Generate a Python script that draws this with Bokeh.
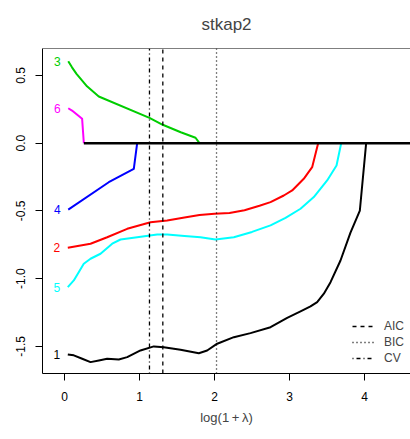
from bokeh.plotting import figure
from bokeh.models import Range1d, FixedTicker, Legend, LegendItem, Span, PrintfTickFormatter
from bokeh.embed import file_html
from bokeh.resources import INLINE
from bokeh.core.properties import value

# ---- data ----
x1 = [0.044, 0.124, 0.236, 0.347, 0.458, 0.569, 0.724, 0.836, 1.013, 1.191, 1.324, 1.547, 1.791,
      1.902, 2.036, 2.258, 2.48, 2.747, 2.969, 3.147, 3.28, 3.369, 3.458, 3.547, 3.68, 3.813,
      3.938, 4.022]
y1 = [-1.559, -1.566, -1.591, -1.616, -1.604, -1.591, -1.596, -1.579, -1.53, -1.5, -1.506, -1.525, -1.55,
      -1.53, -1.48, -1.432, -1.402, -1.358, -1.289, -1.242, -1.205, -1.173, -1.111, -1.026, -0.866, -0.66,
      -0.497, 0.0]

x2 = [0.044, 0.347, 0.569, 0.836, 1.147, 1.369, 1.6, 1.8, 2.0, 2.2, 2.4, 2.6, 2.747, 2.924, 3.036,
      3.19, 3.302, 3.382]
y2 = [-0.772, -0.742, -0.694, -0.632, -0.583, -0.57, -0.548, -0.53, -0.521, -0.516, -0.495, -0.462,
      -0.435, -0.386, -0.349, -0.263, -0.177, 0.0]

x3 = [0.05, 0.1, 0.16, 0.3, 0.457, 1.133, 1.31, 1.55, 1.747, 1.8]
y3 = [0.605, 0.56, 0.512, 0.42, 0.345, 0.187, 0.136, 0.081, 0.04, 0.0]

x4 = [0.05, 0.59, 0.924, 0.969]
y4 = [-0.49, -0.288, -0.189, 0.0]

x5 = [0.044, 0.124, 0.257, 0.347, 0.48, 0.636, 0.747, 0.969, 1.236, 1.369, 1.6, 1.813, 2.013, 2.258,
      2.5, 2.747, 2.947, 3.147, 3.324, 3.502, 3.627, 3.689]
y5 = [-1.063, -1.013, -0.89, -0.853, -0.816, -0.742, -0.711, -0.694, -0.674, -0.674, -0.685, -0.694,
      -0.711, -0.694, -0.655, -0.607, -0.551, -0.484, -0.398, -0.275, -0.165, 0.0]

x6 = [0.05, 0.10, 0.235, 0.258]
y6 = [0.258, 0.241, 0.18, 0.0]

zero_x = [0.258, 4.7]
zero_y = [0.0, 0.0]

series_labels = ["1", "2", "3", "4", "5", "6"]
series_colors = ["black", "#FF0000", "#00CD00", "#0000FF", "#00FFFF", "#FF00FF"]

aic = 1.311
bic = 2.027
cv = 1.133

x_ticks = [0, 1, 2, 3, 4]
y_ticks = [-1.5, -1.0, -0.5, 0.0, 0.5]

X_RANGE = (-0.2933, 4.6133)
Y_RANGE = (-1.70, 0.699)

FONT = "Liberation Sans"
W, H = 410, 439
B_LEFT, B_TOP, B_BOTTOM = 42, 48, 66

p = figure(width=W, height=H, output_backend="svg", toolbar_location=None,
           x_range=Range1d(*X_RANGE), y_range=Range1d(*Y_RANGE),
           min_border_left=B_LEFT, min_border_right=0, min_border_top=B_TOP,
           min_border_bottom=B_BOTTOM)
p.background_fill_color = None
p.border_fill_color = "white"
p.grid.visible = False
p.outline_line_color = None

p.title.text = "stkap2"
p.title.align = "center"
p.title.vertical_align = "top"
p.title.text_font = FONT
p.title.text_font_style = "normal"
p.title.text_font_size = "17px"
p.title.standoff = 25

for ax in (p.xaxis[0], p.yaxis[0]):
    ax.axis_line_color = "black"
    ax.major_tick_out = 7
    ax.major_tick_in = 0
    ax.minor_tick_line_color = None
    ax.major_label_text_font = FONT
    ax.major_label_text_font_size = "12px"
    ax.major_label_text_color = "black"
    ax.axis_label_text_font = FONT
    ax.axis_label_text_font_style = "normal"
    ax.axis_label_text_font_size = "13px"

p.xaxis.ticker = FixedTicker(ticks=x_ticks)
p.yaxis.ticker = FixedTicker(ticks=y_ticks)
p.yaxis.formatter = PrintfTickFormatter(format="%.1f")
p.yaxis.major_label_orientation = "vertical"
p.yaxis.major_label_standoff = 10
p.xaxis.major_label_standoff = 11
p.xaxis.axis_label = "log(1\u2009+\u2009\u03bb)"
p.xaxis.axis_label_standoff = 6

top_line = Span(location=Y_RANGE[1], dimension="width", line_color="black", line_width=1)
p.add_layout(top_line)

xs = [x1, x2, x3, x4, x5, x6]
ys = [y1, y2, y3, y4, y5, y6]
for xx, yy, c in zip(xs, ys, series_colors):
    p.line(xx, yy, line_color=c, line_width=2, line_join="round")

p.line(zero_x, zero_y, line_color="black", line_width=2.5)

p.text(x=[xx[0] for xx in xs], y=[yy[0] for yy in ys], text=series_labels,
       text_color=series_colors, x_offset=-11, text_align="center", text_baseline="middle",
       text_font=value(FONT), text_font_size="12px")

r_aic = p.segment(x0=[aic], y0=[Y_RANGE[0]], x1=[aic], y1=[Y_RANGE[1]],
                  line_color="black", line_width=1.3, line_dash="4 4")
r_bic = p.segment(x0=[bic], y0=[Y_RANGE[0]], x1=[bic], y1=[Y_RANGE[1]],
                  line_color="black", line_width=1.3, line_dash="1 3")
r_cv = p.segment(x0=[cv], y0=[Y_RANGE[0]], x1=[cv], y1=[Y_RANGE[1]],
                 line_color="black", line_width=1.3, line_dash="1 3 4 3")

legend = Legend(items=[LegendItem(label="AIC", renderers=[r_aic]),
                       LegendItem(label="BIC", renderers=[r_bic]),
                       LegendItem(label="CV", renderers=[r_cv])],
                location=(310, 7), orientation="vertical",
                glyph_width=22, glyph_height=16, label_height=16, label_standoff=10,
                spacing=0, padding=0, margin=0,
                border_line_color=None, background_fill_alpha=0,
                label_text_font=FONT, label_text_font_size="12px")
p.add_layout(legend)

open("out.html", "w").write(file_html(p, INLINE))
